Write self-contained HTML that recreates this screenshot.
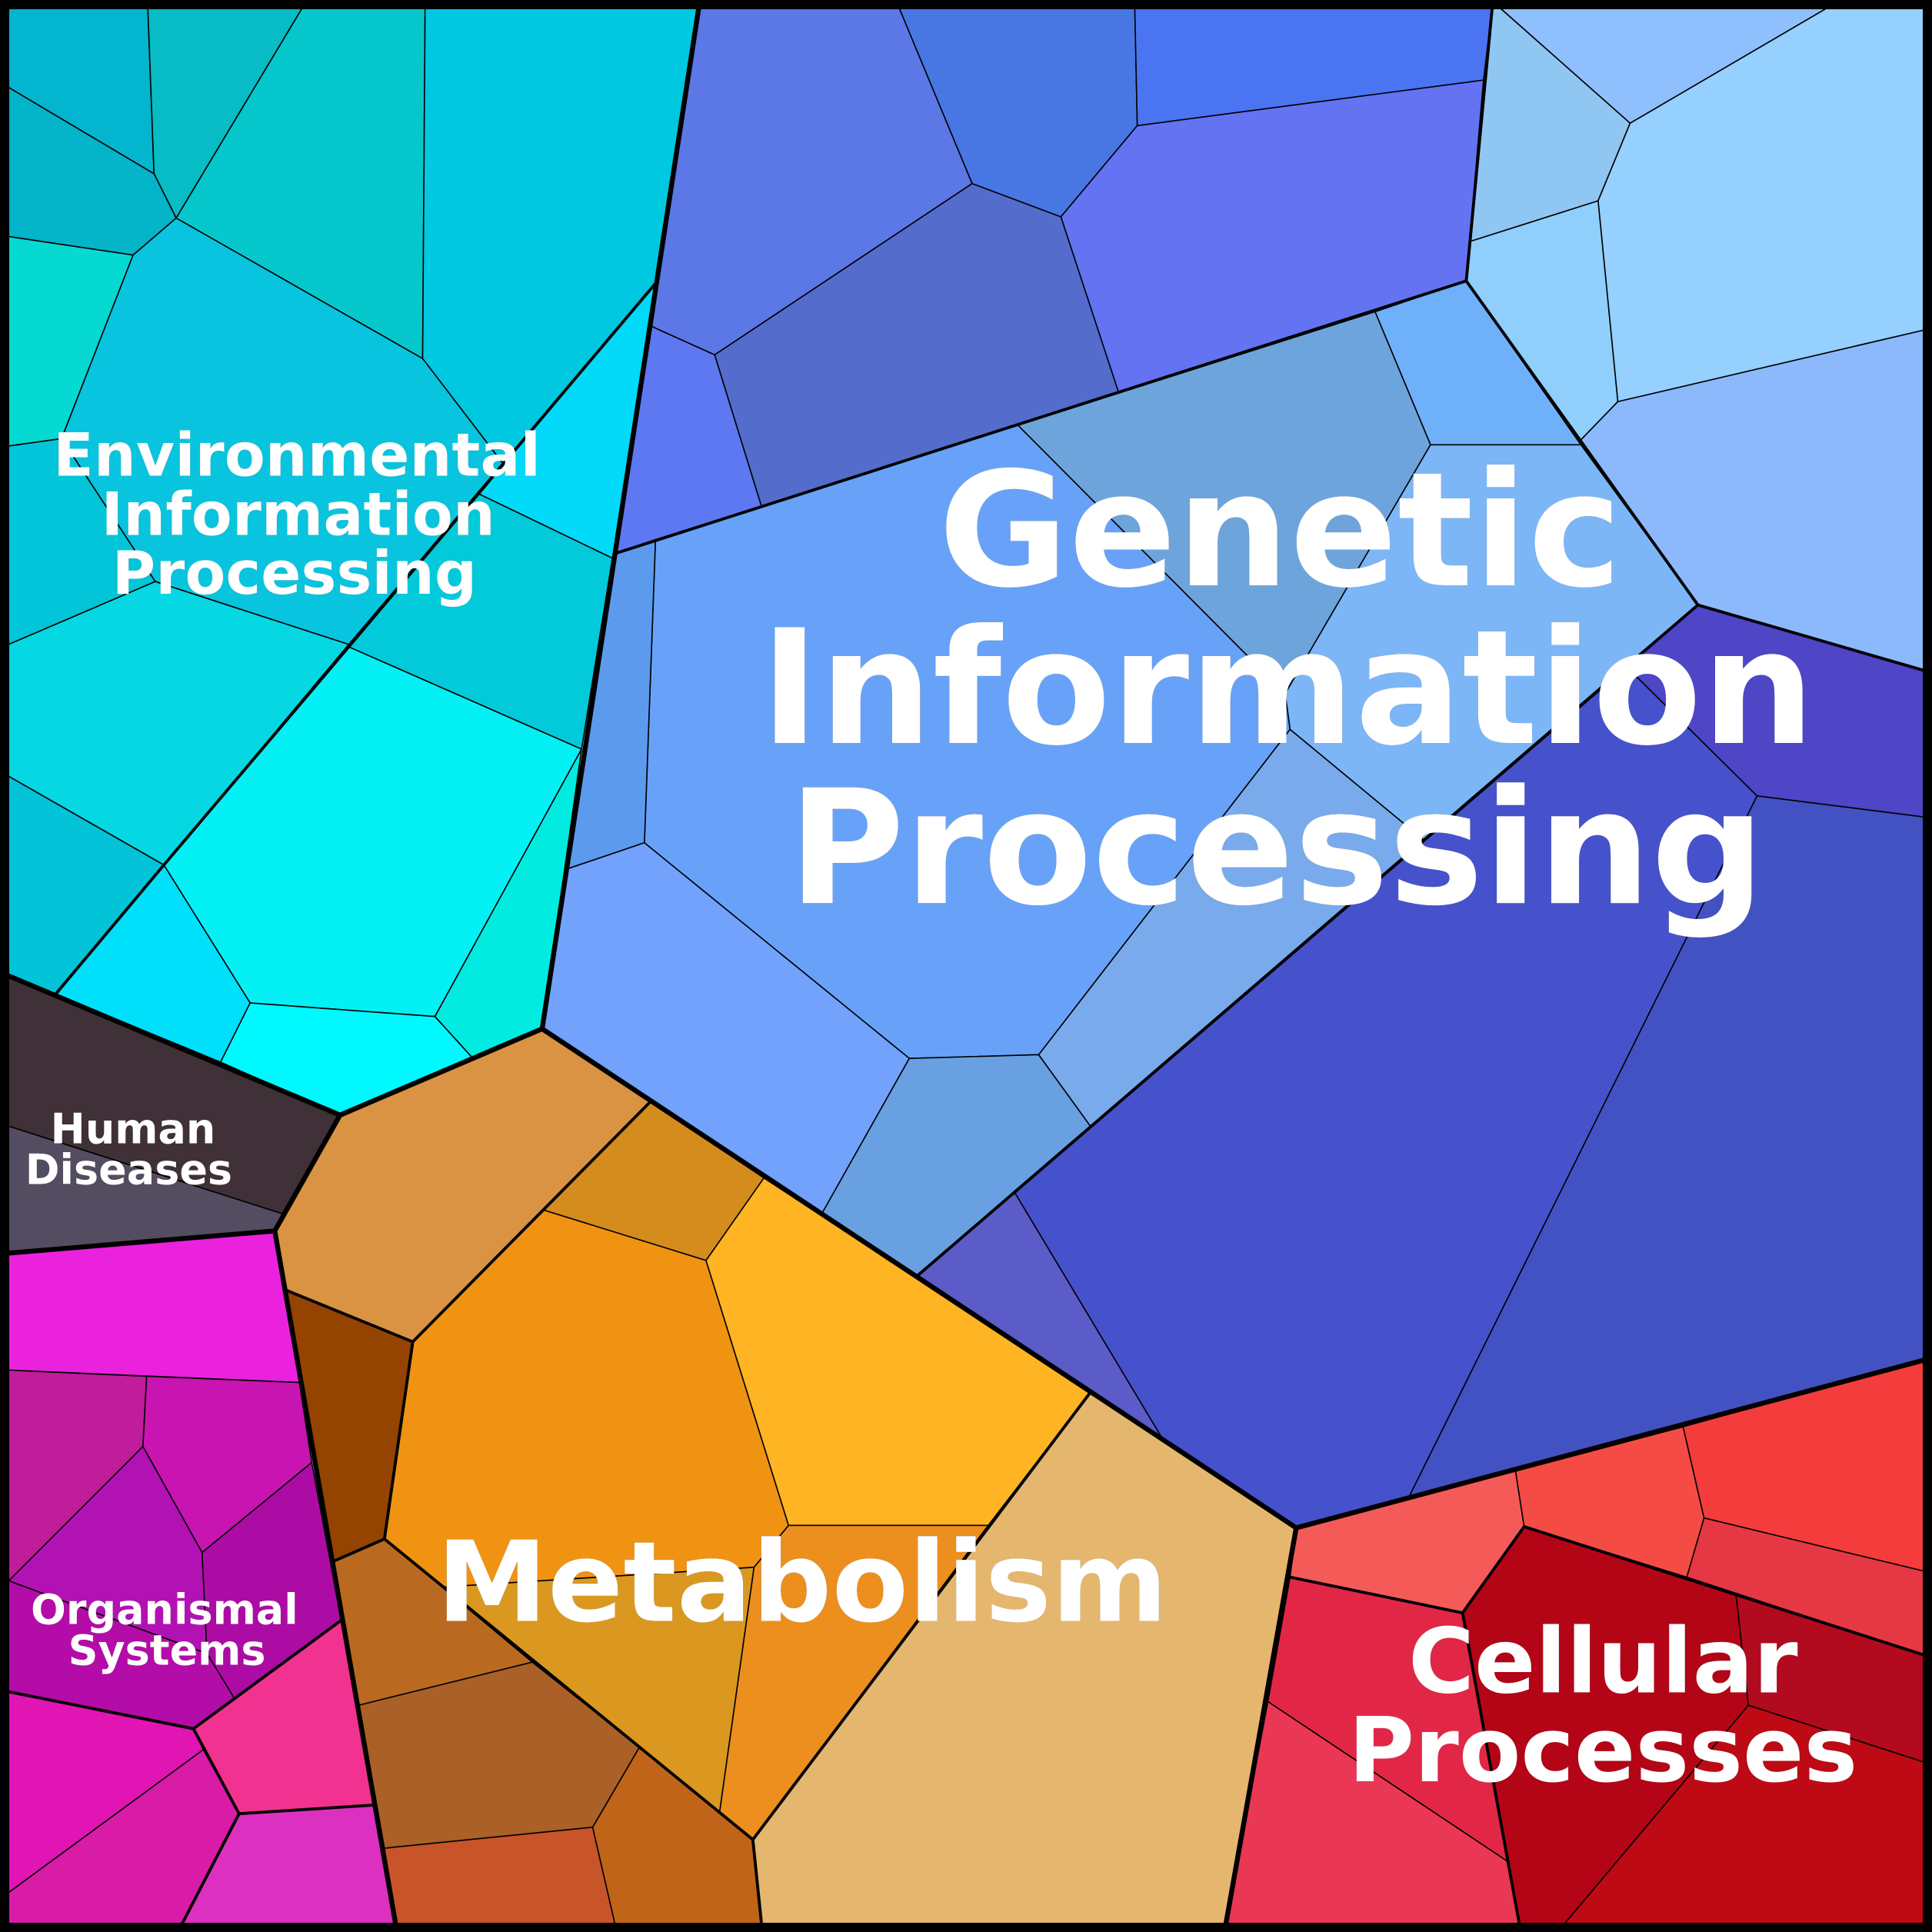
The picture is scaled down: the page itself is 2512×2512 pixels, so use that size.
<!DOCTYPE html>
<html><head><meta charset="utf-8"><title>Voronoi treemap</title>
<style>
html,body{margin:0;padding:0;background:#fff}
svg{display:block;width:2512px;height:2512px}
.c polygon{stroke:#000;stroke-width:1;stroke-linejoin:miter}
.m{fill:none;stroke:#000;stroke-width:2.4;stroke-linejoin:miter}
.t{fill:none;stroke:#000;stroke-width:4;stroke-linejoin:miter}
text{font-family:"DejaVu Sans",sans-serif;font-weight:bold;fill:#fff;text-anchor:middle;filter:drop-shadow(.6px .6px 0 #222)}
</style></head><body>
<svg xmlns="http://www.w3.org/2000/svg" viewBox="0 0 1568 1568">
<g class="c">
<!-- Environmental -->
<polygon fill="#04b5cf" points="7,7 120,7 125,141 7,71"/>
<polygon fill="#07bcc4" points="120,7 245,7 143,177 125,141"/>
<polygon fill="#06c8cc" points="245,7 345,7 343,291 143,177"/>
<polygon fill="#00c8e0" points="345,7 567,7 532,230 408,376 343,291"/>
<polygon fill="#04b4c8" points="7,71 125,141 143,177 108,207 7,192"/>
<polygon fill="#05d9d2" points="7,192 108,207 50,356 7,362"/>
<polygon fill="#09c4de" points="108,207 143,177 343,291 408,376 283,523 126,472 50,356"/>
<polygon fill="#03c5d9" points="7,362 50,356 126,472 7,523"/>
<polygon fill="#05d8e3" points="7,523 126,472 283,523 133,702 7,630"/>
<polygon fill="#03c3d8" points="7,630 133,702 45,807 7,792"/>
<polygon fill="#03d9f8" points="532,230 500,450 497,453 389,401"/>
<polygon fill="#03cada" points="389,401 497,453 472,608 283,525"/>
<polygon fill="#03f0f5" points="283,525 472,608 353,825 203,814 133,702"/>
<polygon fill="#00e0fa" points="133,702 203,814 179,862 45,807"/>
<polygon fill="#00f8ff" points="203,814 353,825 383,858 276,905 179,862"/>
<polygon fill="#02ebe0" points="472,608 440,835 383,858 353,825"/>
<!-- Genetic -->
<polygon fill="#5c77e6" points="567,7 730,7 789,149 580,288 529,265"/>
<polygon fill="#4877e4" points="730,7 921,7 923,102 861,176 789,149"/>
<polygon fill="#4a74f2" points="921,7 1211,7 1204,65 923,102"/>
<polygon fill="#6373f2" points="923,102 1204,65 1190,228 908,319 861,176"/>
<polygon fill="#546dcc" points="789,149 861,176 908,319 618,411 580,288"/>
<polygon fill="#5e78f2" points="529,265 580,288 618,411 500,449"/>
<polygon fill="#8fc0fd" points="1211,7 1482,7 1323,100 1218,7"/>
<polygon fill="#8fc6f2" points="1211,7 1218,7 1323,100 1297,163 1193,196"/>
<polygon fill="#95d0fe" points="1482,7 1561,7 1561,268 1313,326 1297,163 1323,100"/>
<polygon fill="#90cffc" points="1193,196 1297,163 1313,326 1283,357 1190,228"/>
<polygon fill="#8cb9fc" points="1313,326 1561,268 1561,544 1378,491 1283,357"/>
<polygon fill="#6fb0fa" points="1116,253 1190,228 1283,361 1161,361"/>
<polygon fill="#6ea4dc" points="826,345 1116,253 1161,361 1043,563"/>
<polygon fill="#7cb6f6" points="1161,361 1283,361 1378,491 1157,683 1047,592 1043,563"/>
<polygon fill="#68a2f8" points="532,438 826,345 1043,563 1047,592 843,856 738,859 523,684"/>
<polygon fill="#5c9aee" points="500,449 532,438 523,684 461,705"/>
<polygon fill="#72a2fc" points="461,705 523,684 738,859 667,985 440,835"/>
<polygon fill="#68a0e2" points="738,859 843,856 885,914 745,1035 667,985"/>
<polygon fill="#79aaec" points="1047,592 1157,683 885,914 843,856"/>
<polygon fill="#4e45c7" points="1378,491 1561,544 1561,663 1426,646 1329,550 1316,543"/>
<polygon fill="#4652cc" points="1316,543 1329,550 1426,646 1143,1216 1052,1240 943,1167 823,967"/>
<polygon fill="#4352c2" points="1426,646 1561,663 1561,1104 1143,1216"/>
<polygon fill="#5c5cc8" points="823,967 943,1167 745,1035"/>
<!-- Human -->
<polygon fill="#403038" points="7,792 276,905 229,985 7,914"/>
<polygon fill="#544c60" points="7,914 229,985 223,999 7,1017"/>
<!-- Organismal -->
<polygon fill="#ea22de" points="7,1017 223,999 243,1122 7,1112"/>
<polygon fill="#c01c9c" points="7,1112 119,1117 116,1174 7,1284"/>
<polygon fill="#c814b0" points="119,1117 243,1122 253,1187 164,1260 116,1174"/>
<polygon fill="#b212b4" points="116,1174 164,1260 168,1342 7,1283"/>
<polygon fill="#ac0ca4" points="164,1260 253,1187 277,1315 190,1378 168,1342"/>
<polygon fill="#b40ca8" points="7,1283 168,1342 190,1378 157,1403 7,1373"/>
<polygon fill="#f23290" points="157,1403 277,1315 303,1465 194,1472"/>
<polygon fill="#e114b4" points="7,1373 157,1403 165,1420 7,1536"/>
<polygon fill="#d81ca8" points="7,1536 165,1420 194,1472 148,1561 7,1561"/>
<polygon fill="#dc30c0" points="194,1472 303,1465 321,1561 148,1561"/>
<!-- Metabolism -->
<polygon fill="#da9342" points="276,905 440,835 528,894 335,1089 232,1047 223,999"/>
<polygon fill="#d48c1c" points="528,894 620,956 573,1023 441,982"/>
<polygon fill="#f09312" points="441,982 573,1023 640,1238 612,1272 360,1288 312,1249 335,1089"/>
<polygon fill="#ffb423" points="620,956 885,1130 802,1238 640,1238 573,1023"/>
<polygon fill="#944400" points="232,1047 335,1089 312,1249 271,1267"/>
<polygon fill="#b96a20" points="271,1267 312,1249 432,1349 291,1384"/>
<polygon fill="#aa6026" points="291,1384 432,1349 519,1418 481,1483 312,1500"/>
<polygon fill="#c8542a" points="312,1500 481,1483 499,1561 321,1561"/>
<polygon fill="#c0641a" points="481,1483 519,1418 611,1493 618,1561 499,1561"/>
<polygon fill="#da9820" points="360,1288 612,1272 584,1471"/>
<polygon fill="#ec8f1e" points="612,1272 640,1238 802,1238 611,1493 584,1471"/>
<polygon fill="#e5b66e" points="885,1130 1052,1240 995,1561 618,1561 611,1493"/>
<!-- Cellular -->
<polygon fill="#f45a58" points="1052,1240 1230,1194 1237,1239 1187,1309 1047,1280"/>
<polygon fill="#f44c44" points="1230,1194 1366,1158 1383,1232 1369,1280 1237,1239"/>
<polygon fill="#f43c3c" points="1366,1158 1561,1104 1561,1275 1383,1232"/>
<polygon fill="#e63844" points="1383,1232 1561,1275 1561,1343 1369,1280"/>
<polygon fill="#e22746" points="1047,1280 1187,1309 1224,1511 1029,1381"/>
<polygon fill="#ea3753" points="1029,1381 1224,1511 1233,1561 995,1561"/>
<polygon fill="#b30516" points="1237,1239 1409,1295 1419,1384 1270,1561 1233,1561 1187,1309"/>
<polygon fill="#b20a1e" points="1409,1295 1561,1343 1561,1430 1419,1384"/>
<polygon fill="#bd0a14" points="1419,1384 1561,1430 1561,1561 1270,1561"/>
</g>
<!-- mid-level boundaries -->
<polyline class="m" points="532,230 283,525 133,702 45,807"/>
<polyline class="m" points="500,449 1190,228 1378,491 745,1035"/>
<polyline class="m" points="1211,7 1190,228"/>
<polyline class="m" points="1378,491 1561,544"/>
<polyline class="m" points="528,894 335,1089 312,1249 611,1493 885,1130"/>
<polyline class="m" points="232,1047 335,1089"/>
<polyline class="m" points="271,1267 312,1249"/>
<polyline class="m" points="611,1493 618,1561"/>
<polyline class="m" points="1047,1280 1187,1309 1233,1561"/>
<polyline class="m" points="1187,1309 1237,1239 1561,1343"/>
<polyline class="m" points="7,1373 157,1403 277,1315"/>
<polyline class="m" points="157,1403 194,1472 148,1561"/>
<polyline class="m" points="194,1472 303,1465"/>
<!-- top-level boundaries -->
<polyline class="t" points="567,7 440,835 1052,1240 1561,1104"/>
<polyline class="t" points="7,792 276,905 440,835"/>
<polyline class="t" points="276,905 223,999 7,1017"/>
<polyline class="t" points="223,999 321,1561"/>
<polyline class="t" points="1052,1240 995,1561"/>
<rect x="3.75" y="3.75" width="1560.5" height="1560.5" fill="none" stroke="#000" stroke-width="7.5"/>
<!-- labels -->
<text font-size="48.2" x="241" y="386">Environmental</text>
<text font-size="48.2" x="242" y="434">Information</text>
<text font-size="48.2" x="239" y="482">Processing</text>
<text font-size="129" x="1039" y="475">Genetic</text>
<text font-size="129" x="1045" y="603">Information</text>
<text font-size="129" x="1036" y="733">Processing</text>
<text font-size="33.7" x="108" y="928">Human</text>
<text font-size="33.7" x="104.5" y="961">Diseases</text>
<text font-size="33.7" x="133.5" y="1318">Organismal</text>
<text font-size="33.7" x="135.5" y="1351">Systems</text>
<text font-size="90.6" x="651" y="1315.5">Metabolism</text>
<text font-size="73.2" x="1301" y="1373.5">Cellular</text>
<text font-size="73.2" x="1301" y="1445.5">Processes</text>
</svg>
</body></html>
